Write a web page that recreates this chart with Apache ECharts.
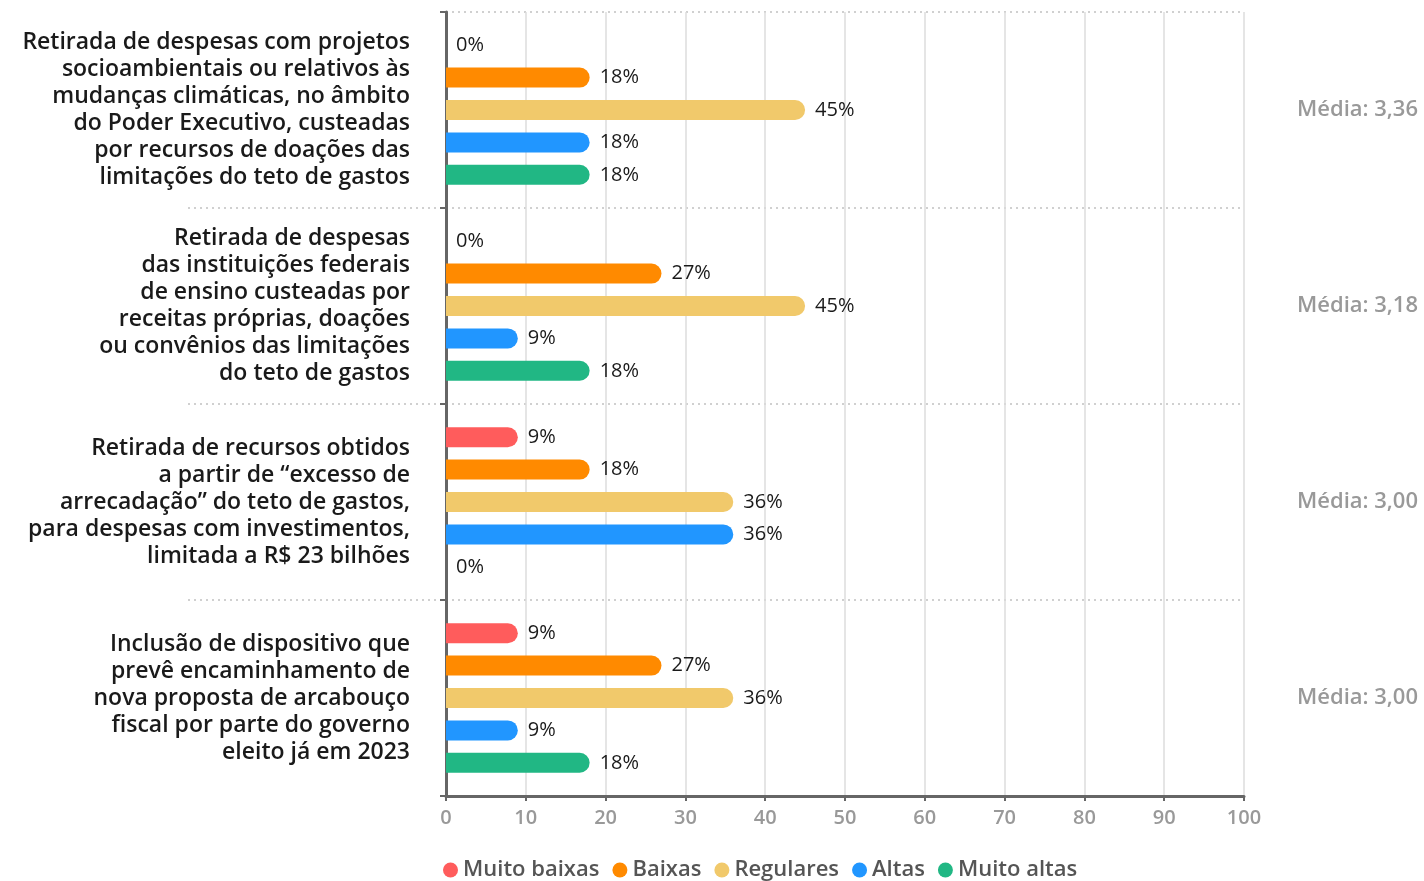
<!DOCTYPE html>
<html>
<head>
<meta charset="utf-8">
<script src="https://cdn.jsdelivr.net/npm/echarts@6/dist/echarts.min.js"></script>
<style>
html,body{margin:0;padding:0;background:#fff;}
#chart{width:1424px;height:881px;}
</style>
</head>
<body>
<div id="chart"></div>
<script>
const categories = [
  'Retirada de despesas com projetos\nsocioambientais ou relativos às\nmudanças climáticas, no âmbito\ndo Poder Executivo, custeadas\npor recursos de doações das\nlimitações do teto de gastos',
  'Retirada de despesas\ndas instituições federais\nde ensino custeadas por\nreceitas próprias, doações\nou convênios das limitações\ndo teto de gastos',
  'Retirada de recursos obtidos\na partir de “excesso de\narrecadação” do teto de gastos,\npara despesas com investimentos,\nlimitada a R$ 23 bilhões',
  'Inclusão de dispositivo que\nprevê encaminhamento de\nnova proposta de arcabouço\nfiscal por parte do governo\neleito já em 2023'
];
const mediaLabels = ['Média: 3,36', 'Média: 3,18', 'Média: 3,00', 'Média: 3,00'];
const seriesNames = ['Muito baixas', 'Baixas', 'Regulares', 'Altas', 'Muito altas'];
const muitoBaixas = [0, 0, 9, 9];
const baixas = [18, 27, 18, 27];
const regulares = [45, 45, 36, 36];
const altas = [18, 9, 36, 9];
const muitoAltas = [18, 18, 0, 18];
const xTicks = [0, 10, 20, 30, 40, 50, 60, 70, 80, 90, 100];

const colors = ['#ff5c5c', '#ff8a00', '#f1c96b', '#2196ff', '#21b784'];
const values = [muitoBaixas, baixas, regulares, altas, muitoAltas];
const FONT = 'Open Sans';

const chart = echarts.init(document.getElementById('chart'));
const option = {
  animation: false,
  textStyle: { fontFamily: FONT },
  color: colors,
  legend: {
    bottom: -5,
    left: 438,
    icon: 'circle',
    itemWidth: 15, itemHeight: 15, itemGap: 13,
    textStyle: { fontSize: 22, color: '#555', fontWeight: 600, fontFamily: FONT },
    data: seriesNames
  },
  grid: [
    { left: 446, right: 180, top: 12, bottom: 85 },
    { left: 188, right: 180, top: 12, bottom: 85 }
  ],
  xAxis: [
    {
      type: 'value', gridIndex: 0, min: xTicks[0], max: xTicks[xTicks.length - 1], interval: 10,
      axisLine: { show: true, lineStyle: { color: '#666', width: 3 } },
      axisTick: { show: true, length: 5, lineStyle: { color: '#666', width: 2 } },
      axisLabel: { fontSize: 20, fontWeight: 600, color: '#999', margin: 12, fontFamily: FONT },
      splitLine: { show: true, lineStyle: { color: '#dcdcdc', width: 1.5 } }
    },
    { type: 'value', gridIndex: 1, show: false, min: 0, max: 100 }
  ],
  yAxis: [
    {
      type: 'category', gridIndex: 0, inverse: true, data: categories,
      axisLine: { show: true, lineStyle: { color: '#666', width: 3 } },
      axisTick: { show: true, length: 6, lineStyle: { color: '#666', width: 2 } },
      axisLabel: { fontSize: 23, fontWeight: 600, color: '#1a1a1a', lineHeight: 27, margin: 36, align: 'right', fontFamily: FONT },
      splitLine: { show: true, lineStyle: { color: '#d0d0d0', type: [2, 4], width: 2 } }
    },
    {
      type: 'category', gridIndex: 0, inverse: true, position: 'right', data: mediaLabels,
      axisLine: { show: false }, axisTick: { show: false },
      axisLabel: { fontSize: 22, fontWeight: 600, color: '#999', margin: 53, fontFamily: FONT },
      splitLine: { show: false }
    },
    {
      type: 'category', gridIndex: 1, inverse: true, data: categories,
      axisLine: { show: false }, axisTick: { show: false }, axisLabel: { show: false },
      splitLine: { show: true, showMinLine: false, showMaxLine: false, lineStyle: { color: '#d0d0d0', type: [2, 4], width: 2 } }
    }
  ],
  series: seriesNames.map((name, i) => ({
    name: name,
    type: 'bar',
    xAxisIndex: 0, yAxisIndex: 0,
    data: values[i],
    barWidth: 20,
    barGap: '62%',
    itemStyle: { color: colors[i], borderRadius: [0, 10, 10, 0] },
    label: {
      show: true, position: 'right', distance: 10, formatter: '{c}%',
      fontSize: 20, color: '#1a1a1a', fontFamily: FONT
    }
  }))
};
chart.setOption(option);
</script>
</body>
</html>
